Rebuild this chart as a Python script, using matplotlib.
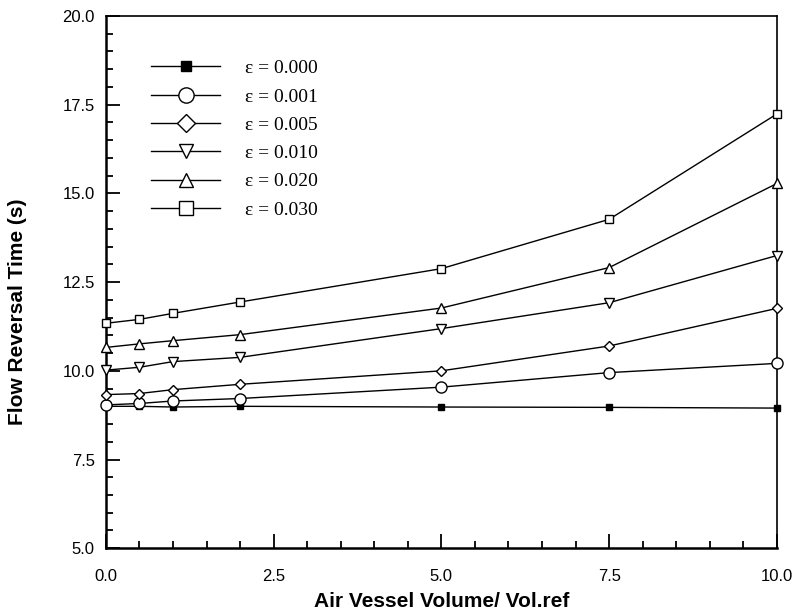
import matplotlib
matplotlib.use("Agg")
import matplotlib.pyplot as plt
from matplotlib.lines import Line2D
from matplotlib.ticker import MultipleLocator, FormatStrFormatter

x_vals = [0, 0.5, 1, 2, 5, 7.5, 10]
eps_labels = ["ε = 0.000", "ε = 0.001", "ε = 0.005", "ε = 0.010", "ε = 0.020", "ε = 0.030"]
eps000 = [9.00, 9.00, 8.98, 9.00, 8.98, 8.97, 8.95]
eps001 = [9.04, 9.08, 9.15, 9.22, 9.54, 9.95, 10.21]
eps005 = [9.33, 9.36, 9.47, 9.62, 10.00, 10.70, 11.76]
eps010 = [10.02, 10.10, 10.26, 10.38, 11.19, 11.92, 13.25]
eps020 = [10.66, 10.76, 10.85, 11.02, 11.77, 12.91, 15.28]
eps030 = [11.34, 11.45, 11.62, 11.94, 12.88, 14.27, 17.24]

series = [eps000, eps001, eps005, eps010, eps020, eps030]
markers = ["s", "o", "D", "v", "^", "s"]
faces = ["black", "white", "white", "white", "white", "white"]
plot_ms = [4.5, 8, 5.5, 6.5, 6.5, 5.5]
leg_ms = [6.5, 11, 9, 10, 10, 9.5]

fig = plt.figure(figsize=(7.96, 6.16), dpi=100)
ax = fig.add_axes([0.133, 0.110, 0.843, 0.864])

for ys, m, fc, ms in zip(series, markers, faces, plot_ms):
    ax.plot(x_vals, ys, color="black", lw=1.0, marker=m, markersize=ms,
            markerfacecolor=fc, markeredgecolor="black", markeredgewidth=1.0,
            clip_on=False, zorder=3)

ax.set_xlim(0, 10)
ax.set_ylim(5, 20)
ax.xaxis.set_major_locator(MultipleLocator(2.5))
ax.xaxis.set_minor_locator(MultipleLocator(0.5))
ax.yaxis.set_major_locator(MultipleLocator(2.5))
ax.yaxis.set_minor_locator(MultipleLocator(0.5))
ax.xaxis.set_major_formatter(FormatStrFormatter("%.1f"))
ax.yaxis.set_major_formatter(FormatStrFormatter("%.1f"))
ax.tick_params(which="both", direction="in", top=False, right=False, width=1.3)
ax.tick_params(which="major", length=10, labelsize=12)
ax.tick_params(axis="x", which="major", pad=15)
ax.tick_params(axis="y", which="major", pad=8)
ax.tick_params(which="minor", length=5)
for lab in ax.get_xticklabels() + ax.get_yticklabels():
    lab.set_fontfamily("Liberation Sans")
for sp in ax.spines.values():
    sp.set_linewidth(1.2)
ax.spines["left"].set_linewidth(1.8)
ax.spines["bottom"].set_linewidth(1.8)

ax.set_xlabel("Air Vessel Volume/ Vol.ref", fontsize=15, fontfamily="Liberation Sans",
              fontweight="bold", labelpad=6)
ax.set_ylabel("Flow Reversal Time (s)", fontsize=15, fontfamily="Liberation Sans",
              fontweight="bold")
ax.yaxis.set_label_coords(-0.117, 0.444)

handles = [Line2D([], [], color="black", lw=1.0, marker=m, markersize=ms,
                  markerfacecolor=fc, markeredgecolor="black", markeredgewidth=1.0)
           for m, fc, ms in zip(markers, faces, leg_ms)]
ax.legend(handles, eps_labels, loc="upper left", bbox_to_anchor=(0.068, 0.918),
          frameon=False, borderaxespad=0, borderpad=0,
          prop={"family": "Liberation Serif", "size": 14},
          handlelength=3.5, handletextpad=1.3, labelspacing=0.55)

fig.savefig("out.png", dpi=100)
